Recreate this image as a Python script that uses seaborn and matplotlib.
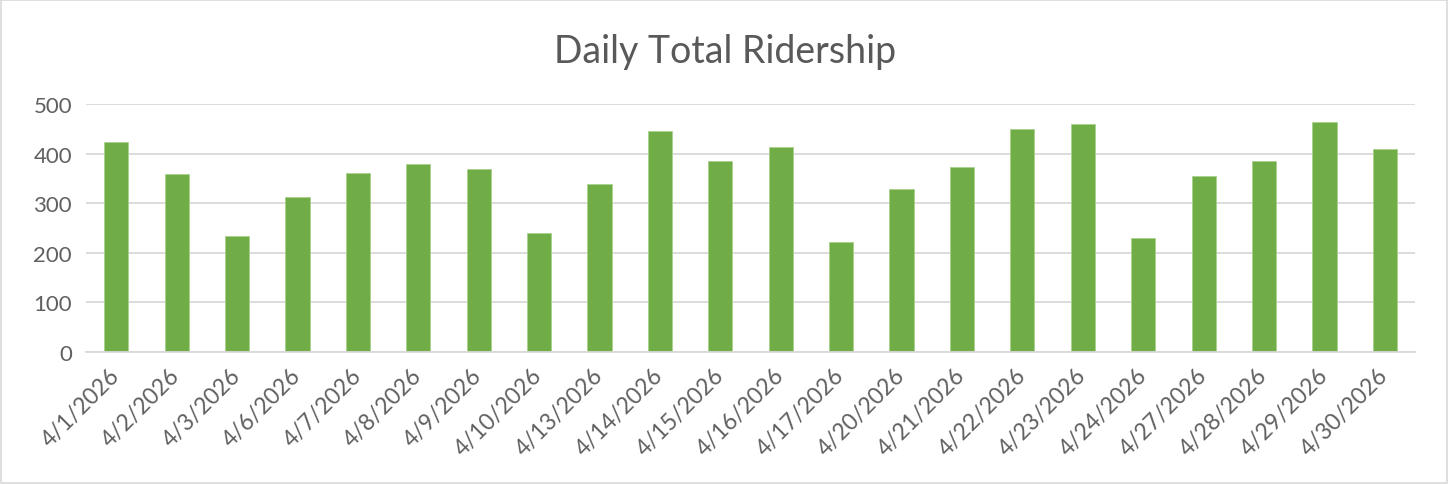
import matplotlib
matplotlib.use("Agg")
import matplotlib.pyplot as plt
import seaborn as sns
import pandas as pd
import numpy as np
from matplotlib.patches import Rectangle

# daily values
dates = ['4/1/2026', '4/2/2026', '4/3/2026', '4/6/2026', '4/7/2026', '4/8/2026',
         '4/9/2026', '4/10/2026', '4/13/2026', '4/14/2026', '4/15/2026', '4/16/2026',
         '4/17/2026', '4/20/2026', '4/21/2026', '4/22/2026', '4/23/2026', '4/24/2026',
         '4/27/2026', '4/28/2026', '4/29/2026', '4/30/2026']
riders = [423, 358, 234, 312, 360, 379, 368, 239, 338, 446, 386, 413,
          221, 328, 372, 449, 459, 229, 355, 385, 464, 409]
yticks = [0, 100, 200, 300, 400, 500]

df = pd.DataFrame({'Date': dates, 'Riders': riders})

sns.set_style("white")
plt.rcParams['font.family'] = ['Lato', 'DejaVu Sans']

fig = plt.figure(figsize=(14.5, 4.85), dpi=100)
ax = fig.add_axes([0.0593, 0.2722, 0.9166, 0.5113])

sns.barplot(data=df, x='Date', y='Riders', color='#70AD47', width=0.4,
            saturation=1, ax=ax, edgecolor='#a9d18e', linewidth=0.6)

ax.set_ylim(0, 500)
ax.set_xlim(-0.5, len(dates) - 0.5)
ax.set_yticks(yticks)
ax.grid(axis='y', color='#d9d9d9', linewidth=1.3)
ax.set_axisbelow(True)
for s in ['top', 'right', 'left']:
    ax.spines[s].set_visible(False)
ax.spines['bottom'].set_color('#d9d9d9')
ax.spines['bottom'].set_linewidth(1.3)

# labels at bar centres, tick marks between categories
ax.set_xticks(range(len(dates)))
ax.set_xticklabels(dates, rotation=45, ha='right', va='center',
                   rotation_mode='anchor', fontsize=16.5, color='#606060')
ax.tick_params(axis='x', which='major', length=0, pad=14)
ax.set_xticks(np.arange(-0.5, len(dates), 1.0), minor=True)
ax.tick_params(axis='x', which='minor', length=8, color='#d9d9d9', width=1.3)
ax.tick_params(axis='y', length=0, labelsize=16, labelcolor='#606060', pad=10)

ax.set_xlabel('')
ax.set_ylabel('')
fig.text(0.5, 0.893, 'Daily Total Ridership', ha='center', va='center',
         fontsize=27, color='#595959')

fig.patches.append(Rectangle((0.001, 0.002), 0.997, 0.995, transform=fig.transFigure,
                             fill=False, edgecolor='#d9d9d9', linewidth=1.2))

plt.savefig('out.png', dpi=100)
